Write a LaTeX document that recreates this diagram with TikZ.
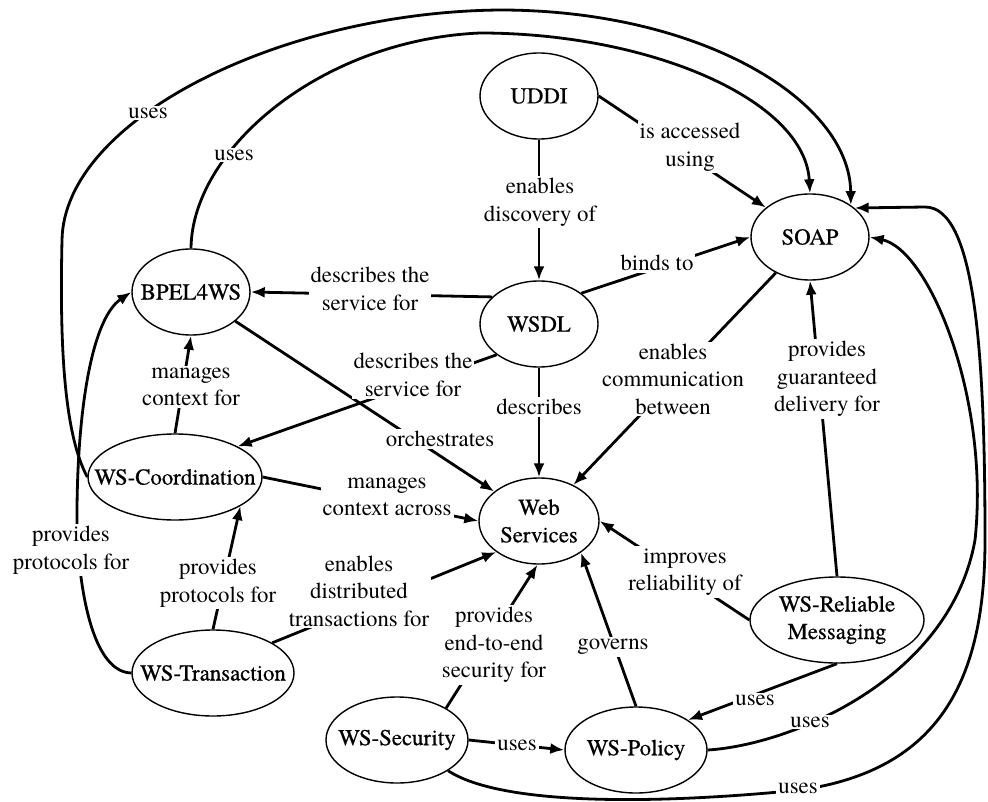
\documentclass[tikz,border=0pt]{standalone}
\usepackage{fontspec}
\IfFontExistsTF{texgyretermes-regular.otf}
 {\setmainfont{texgyretermes-regular.otf}\newfontfamily\nodefont{texgyretermes-regular.otf}[FakeBold=0.5]\def\cnSize{22.8}}
 {\newfontfamily\nodefont{Latin Modern Roman}[FakeBold=0.5]\def\cnSize{21.6}}
\usetikzlibrary{shapes.geometric,arrows.meta}
\newcommand{\cnText}[1]{\makebox[0pt]{#1}}
\begin{document}
\begin{tikzpicture}[x=1pt,y=-1pt,
  concept/.style={draw, line width=1.4pt, ellipse, inner sep=0pt, minimum height=86pt,
    fill=white, align=center, font=\nodefont\fontsize{\cnSize}{27.5}\selectfont},
  lbl/.style={fill=white, inner sep=2pt, align=center, font=\fontsize{\cnSize}{27.5}\selectfont},
  link/.style={line width=2.8pt, -{Latex[length=14pt,width=11pt]}}]
\useasboundingbox (0,0) rectangle (988,802);
\fill[white] (0,0) rectangle (988,802);

% concepts
\node[concept, minimum width=118pt] (uddi) at (539,96) {\cnText{UDDI}};
\node[concept, minimum width=118pt] (soap) at (810,237) {\cnText{SOAP}};
\node[concept, minimum width=118pt] (wsdl) at (539,324) {\cnText{WSDL}};
\node[concept, minimum width=118pt] (bpel) at (191,292) {\cnText{BPEL4WS}};
\node[concept, minimum width=174pt] (wsc) at (175,477) {\cnText{WS-Coordination}};
\node[concept, minimum width=120pt] (ws) at (539,521) {\cnText{Web}\\\cnText{Services}};
\node[concept, minimum width=162pt] (wst) at (213,673) {\cnText{WS-Transaction}};
\node[concept, minimum width=142pt] (wss) at (397,740) {\cnText{WS-Security}};
\node[concept, minimum width=142pt] (wsp) at (636,750) {\cnText{WS-Policy}};
\node[concept, minimum width=174pt] (wsrm) at (837,620) {\cnText{WS-Reliable}\\\cnText{Messaging}};

% straight connectors
\draw[link] (uddi) -- (wsdl);
\draw[link] (uddi.east) -- (soap);
\draw[link] (wsdl.36) -- (soap.west);
\draw[link] (wsdl.150) -- (bpel.east);
\draw[link] (wsdl.216) -- (wsc.26);
\draw[link] (wsdl) -- (ws);
\draw[link] (soap) -- (ws);
\draw[link] (wsrm.north) -- (soap.south);
\draw[link] (bpel) -- (ws);
\draw[link] (wsc.north) -- (bpel.south);
\draw[link] (wsc.east) -- (ws.west);
\draw[link] (wst.north) -- (wsc.-24);
\draw[link] (wst.27) -- (ws.216);
\draw[link] (wsrm.south) -- (wsp.30);
\draw[link] (wsrm.west) -- (ws.east);
\draw[link] (wsp.north) -- (ws.-37);
\draw[link] (wss.33) -- (ws.-92);
\draw[link] (wss.east) -- (wsp.west);

% curved connectors
\draw[link] (bpel.north) .. controls (192,150) and (320,40) .. (480,33)
  .. controls (650,33) and (805,100) .. (soap.north);
\draw[link] (wsc.west) .. controls (62,430) and (60,330) .. (62,240)
  .. controls (64,120) and (280,12) .. (500,10)
  .. controls (700,10) and (850,100) .. (soap.38);
\draw[link] (wst.west) .. controls (95,672) and (80,600) .. (77,530)
  .. controls (76,420) and (90,320) .. (bpel.west);
\draw[link] (wss.-31) .. controls (500,805) and (650,805) .. (800,790)
  .. controls (940,770) and (985,680) .. (985,540)
  .. controls (985,350) and (975,207) .. (925,207) -- (soap.33);
\draw[link] (wsp.east) .. controls (790,745) and (950,680) .. (975,540)
  .. controls (990,400) and (930,250) .. (soap.east);

% labels
\node[lbl] (l1) at (540,202) {enables\\discovery of};
\node[lbl] (l2) at (690,147) {is accessed\\using};
\node[lbl] (l3) at (657,263) {binds to};
\node[lbl] (l4) at (370,289) {describes the\\service for};
\node[lbl] (l5) at (413,375) {describes the\\service for};
\node[lbl] (l6) at (539,407) {describes};
\node[lbl] (l7) at (673,379) {enables\\communication\\between};
\node[lbl] (l8) at (827,379) {provides\\guaranteed\\delivery for};
\node[lbl] (l9) at (440,439) {orchestrates};
\node[lbl] (l10) at (191,387) {manages\\context for};
\node[lbl] (l11) at (387,497) {manages\\context across};
\node[lbl] (l12) at (218,583) {provides\\protocols for};
\node[lbl] (l13) at (71,550) {provides\\protocols for};
\node[lbl] (l14) at (234,155) {uses};
\node[lbl] (l15) at (148,113) {uses};
\node[lbl] (l16) at (755,700) {uses};
\node[lbl] (l17) at (810,722) {uses};
\node[lbl] (l18) at (798,788) {uses};
\node[lbl] (l19) at (517,745) {uses};
\node[lbl] (l20) at (685,572) {improves\\reliability of};
\node[lbl] (l21) at (613,647) {governs};
\node[lbl] (l22) at (494,645) {provides\\end-to-end\\security for};
\node[lbl] (l23) at (359,591) {enables\\distributed\\transactions for};
\end{tikzpicture}
\end{document}
